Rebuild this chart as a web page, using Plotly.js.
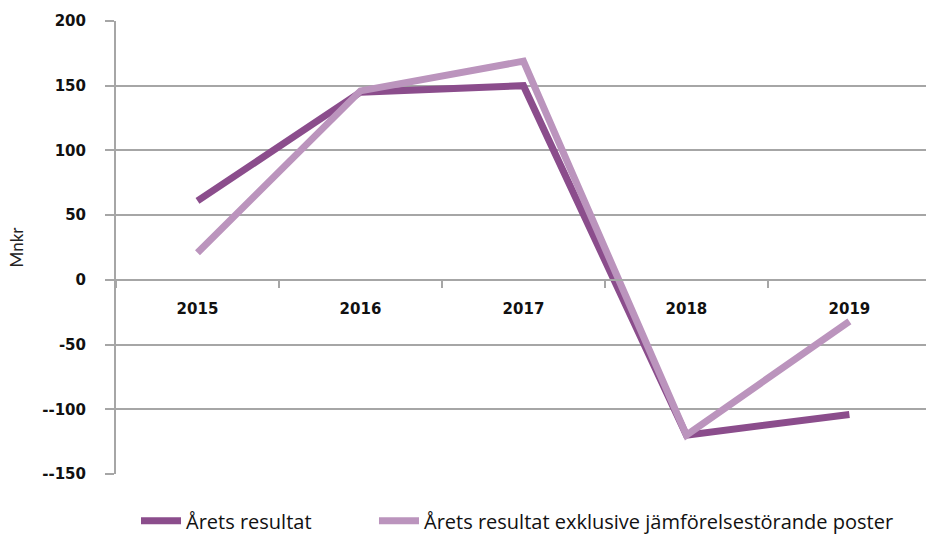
<!DOCTYPE html>
<html>
<head>
<meta charset="utf-8">
<script src="https://cdn.plot.ly/plotly-3.0.1.min.js"></script>
<style>
  html, body { margin: 0; padding: 0; background: #fff; }
  #chart { width: 926px; height: 538px; }
</style>
</head>
<body>
<div id="chart"></div>
<script>
// years on the x axis
var years = ["2015", "2016", "2017", "2018", "2019"];

// Mnkr
var aretsResultat = [61, 145, 150, -120, -104];
var exklJamforelse = [21, 146, 169, -120, -32];

// y tick labels as printed in the original
var yTickVals = [200, 150, 100, 50, 0, -50, -100, -150];
var yTickText = ["200", "150", "100", "50", "0", "-50", "--100", "--150"];

var darkPurple = "#8b4d8c";
var lightPurple = "#bb94bd";

var trace1 = {
    x: years,
    y: aretsResultat,
    name: "Årets resultat",
    type: "scatter",
    mode: "lines",
    line: {color: darkPurple, width: 7},
    legend: "legend"
};

var trace2 = {
    x: years,
    y: exklJamforelse,
    name: "Årets resultat exklusive jämförelsestörande poster",
    type: "scatter",
    mode: "lines",
    line: {color: lightPurple, width: 7},
    legend: "legend2"
};

var data = [trace1, trace2];

var yMin = -150, yMax = 200;

// shared legend look, two legends placed side by side
var legendFont = {family: "Open Sans, sans-serif", size: 20, color: "#111"};

var layout = {
    width: 926,
    height: 538,
    margin: {l: 116, r: 0, t: 21, b: 64},
    paper_bgcolor: "#fff",
    plot_bgcolor: "#fff",
    showlegend: true,
    font: {family: "Lato, sans-serif", color: "#111"},
    xaxis: {
        type: "category",
        range: [-0.5, 4.47],
        anchor: "free",
        position: (0 - yMin) / (yMax - yMin),
        showgrid: false,
        showline: true,
        linecolor: "#a6a6a6",
        linewidth: 2,
        ticks: "outside",
        tickson: "boundaries",
        ticklen: 7,
        tickwidth: 1.5,
        tickcolor: "#a6a6a6",
        ticklabelstandoff: 15,
        tickfont: {family: "DejaVu Sans, sans-serif", size: 15, color: "#111", weight: "bold"},
        zeroline: false,
        fixedrange: true
    },
    yaxis: {
        range: [yMin, yMax],
        tickvals: yTickVals,
        ticktext: yTickText,
        showgrid: true,
        gridcolor: "#a6a6a6",
        gridwidth: 2,
        zeroline: false,
        showline: true,
        linecolor: "#a6a6a6",
        linewidth: 2,
        ticks: "outside",
        ticklen: 9,
        tickwidth: 2,
        tickcolor: "#a6a6a6",
        ticklabelstandoff: 16,
        tickfont: {family: "DejaVu Sans, sans-serif", size: 15, color: "#111", weight: "bold"},
        title: {text: "Mnkr", font: {family: "Lato, sans-serif", size: 17, color: "#222"}, standoff: 14},
        automargin: false,
        fixedrange: true
    },
    legend: {
        orientation: "h",
        x: 0.0247,
        xanchor: "left",
        yref: "container",
        y: 0.032,
        yanchor: "middle",
        itemwidth: 40,
        font: legendFont,
        bgcolor: "rgba(0,0,0,0)"
    },
    legend2: {
        orientation: "h",
        x: 0.3185,
        xanchor: "left",
        yref: "container",
        y: 0.032,
        yanchor: "middle",
        itemwidth: 40,
        font: legendFont,
        bgcolor: "rgba(0,0,0,0)"
    }
};

Plotly.newPlot("chart", data, layout, {displayModeBar: false, staticPlot: true});
</script>
</body>
</html>
